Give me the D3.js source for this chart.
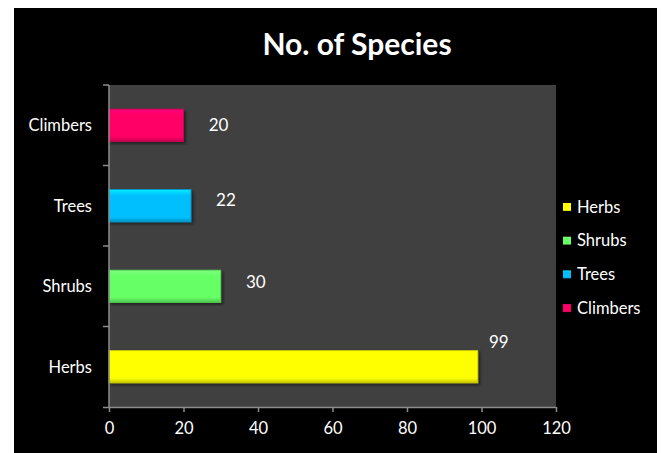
<!DOCTYPE html>
<html lang="en">
<head>
<meta charset="UTF-8">
<title>No. of Species</title>
<script src="https://cdnjs.cloudflare.com/ajax/libs/d3/7.8.5/d3.min.js"></script>
<style>
  body { margin: 0; background: #fff; }
  svg { display: block; font-family: Lato, 'Open Sans', sans-serif; }
</style>
</head>
<body>
<div id="chart"></div>
<script>
// data
const categories = ["Herbs", "Shrubs", "Trees", "Climbers"];
const counts = [99, 30, 22, 20];
const barColors = ["#ffff00", "#66ff66", "#00bfff", "#ff0066"];
const xTicks = [0, 20, 40, 60, 80, 100, 120];

const W = 662, H = 453;
const plot = { left: 109, top: 85, right: 556, bottom: 407 };

const svg = d3.select("#chart").append("svg")
  .attr("width", W).attr("height", H);

svg.append("rect").attr("x", 14).attr("y", 8)
  .attr("width", 643).attr("height", 445).attr("fill", "#000");

svg.append("rect")
  .attr("x", plot.left).attr("y", plot.top)
  .attr("width", plot.right - plot.left).attr("height", plot.bottom - plot.top)
  .attr("fill", "#404040");

svg.append("text")
  .attr("x", 357).attr("y", 55)
  .attr("text-anchor", "middle")
  .attr("fill", "#fff").attr("font-size", 30).attr("font-weight", "bold")
  .text("No. of Species");

const x = d3.scaleLinear().domain([0, 120]).range([plot.left, plot.right]);
const y = d3.scaleBand().domain(categories.slice().reverse())
  .range([plot.top, plot.bottom]).paddingInner(0.6).paddingOuter(0.3);
const yBounds = d3.scaleLinear().domain([0, categories.length]).range([plot.bottom, plot.top]);

const rows = categories.map((c, i) => ({ cat: c, v: counts[i], color: barColors[i] }));

// bevel gradients
const defs = svg.append("defs");
rows.forEach((d, i) => {
  const g = defs.append("linearGradient").attr("id", "g" + i)
    .attr("x1", 0).attr("y1", 0).attr("x2", 0).attr("y2", 1);
  const c = d3.color(d.color);
  g.append("stop").attr("offset", "0%").attr("stop-color", c.brighter(0.6));
  g.append("stop").attr("offset", "18%").attr("stop-color", c);
  g.append("stop").attr("offset", "85%").attr("stop-color", c);
  g.append("stop").attr("offset", "100%").attr("stop-color", c.darker(0.7));
});
defs.append("filter").attr("id", "shadow")
  .append("feDropShadow").attr("dx", 2).attr("dy", 2).attr("stdDeviation", 1.5)
  .attr("flood-color", "#000").attr("flood-opacity", 0.5);

svg.append("g").selectAll("rect").data(rows).join("rect")
  .attr("x", x(0)).attr("y", d => y(d.cat))
  .attr("width", d => x(d.v) - x(0)).attr("height", y.bandwidth())
  .attr("fill", (d, i) => `url(#g${i})`)
  .attr("stroke", d => d3.color(d.color).darker(0.5)).attr("stroke-width", 0.8)
  .attr("filter", "url(#shadow)");

// value labels
svg.append("g").selectAll("text").data(rows).join("text")
  .attr("x", d => x(d.v) + (d.v > 90 ? 21 : 35))
  .attr("y", d => y(d.cat) + y.bandwidth() / 2 + (d.v > 90 ? -25 : (d.cat === "Trees" ? -6 : (d.cat === "Shrubs" ? -4 : 0))))
  .attr("dy", "0.35em")
  .attr("text-anchor", "middle")
  .attr("fill", "#fff").attr("font-size", 17)
  .text(d => d.v);

// axes
const axisColor = "#8c8c8c";
const xAxis = svg.append("g").attr("transform", `translate(0,${plot.bottom})`)
  .call(d3.axisBottom(x).tickValues(xTicks).tickSize(5).tickPadding(10).tickSizeOuter(0));
xAxis.select(".domain").attr("stroke", axisColor).attr("stroke-width", 1.5)
  .attr("d", `M${plot.left - 6},0.5H${plot.right}`);
xAxis.selectAll(".tick line").attr("stroke", axisColor).attr("stroke-width", 1.5);
xAxis.selectAll("text").attr("fill", "#fff").attr("font-size", 16.5)
  .attr("font-family", "Lato, 'Open Sans', sans-serif");

const yAxis = svg.append("g").attr("transform", `translate(${plot.left},0)`);
yAxis.append("line").attr("x1", 0).attr("x2", 0)
  .attr("y1", plot.top).attr("y2", plot.bottom)
  .attr("stroke", axisColor).attr("stroke-width", 1.5);
yAxis.selectAll(".tk").data(d3.range(1, categories.length + 1)).join("line")
  .attr("x1", -6).attr("x2", 0)
  .attr("y1", d => yBounds(d)).attr("y2", d => yBounds(d))
  .attr("stroke", axisColor).attr("stroke-width", 1.5);
yAxis.selectAll("text").data(categories).join("text")
  .attr("x", -17).attr("y", d => y(d) + y.bandwidth() / 2)
  .attr("dy", "0.35em").attr("text-anchor", "end")
  .attr("fill", "#fff").attr("font-size", 16.5)
  .text(d => d);

// legend
const leg = svg.append("g").selectAll("g").data(rows).join("g")
  .attr("transform", (d, i) => `translate(563,${207 + i * 33.7})`);
leg.append("rect").attr("x", 0).attr("y", -4).attr("width", 8).attr("height", 8)
  .attr("fill", (d, i) => `url(#g${i})`);
leg.append("text").attr("x", 14).attr("dy", "0.35em")
  .attr("fill", "#fff").attr("font-size", 16.5)
  .text(d => d.cat);
</script>
</body>
</html>
